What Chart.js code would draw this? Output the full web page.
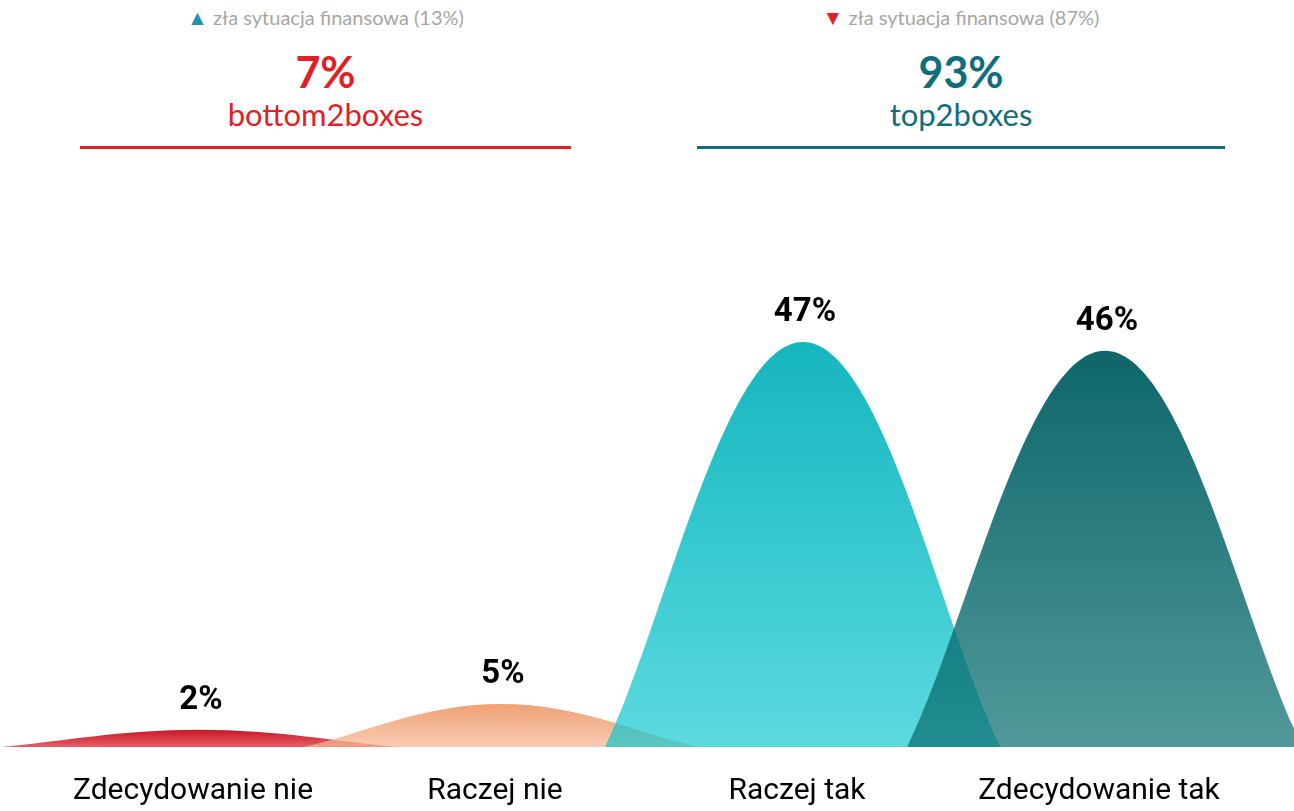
<!DOCTYPE html>
<html>
<head>
<meta charset="utf-8">
<script src="https://cdn.jsdelivr.net/npm/chart.js@4.4.1/dist/chart.umd.min.js"></script>
<style>
    html, body { margin: 0; padding: 0; background: #fff; }
    body { width: 1294px; height: 811px; position: relative; overflow: hidden; font-family: Lato, 'Open Sans', sans-serif; }
    #chart { position: absolute; left: 0; top: 0; }
    .block { position: absolute; top: 0; text-align: center; }
    .note { position: absolute; left: 0; right: 0; top: 5px; font-size: 20px; line-height: 24px; color: #a6a6a6; white-space: nowrap; }
    .note .up { color: #1b93b0; font-size: 21px; }
    .note .down { color: #e21f27; font-size: 21px; }
    .pct { position: absolute; left: 0; right: 0; top: 48px; font-size: 43px; line-height: 48px; font-weight: 700; }
    .sub { position: absolute; left: 0; right: 0; top: 96px; font-size: 31px; line-height: 36px; }
    .rule { position: absolute; left: 0; right: 0; top: 146px; height: 3px; }
    .neg { color: #e21f27; }
    .pos { color: #0f6e7c; }
</style>
</head>
<body>
<div class="block" style="left:80px;width:491px;height:160px;">
    <div class="note"><span class="up">▲</span> zła sytuacja finansowa (13%)</div>
    <div class="pct neg">7%</div>
    <div class="sub neg">bottom2boxes</div>
    <div class="rule" style="background:#e21f27;"></div>
</div>
<div class="block" style="left:697px;width:528px;height:160px;">
    <div class="note"><span class="down">▼</span> zła sytuacja finansowa (87%)</div>
    <div class="pct pos">93%</div>
    <div class="sub pos">top2boxes</div>
    <div class="rule" style="background:#0f6e7c;"></div>
</div>
<canvas id="chart" width="1294" height="811"></canvas>
<script>
const categories = ['Zdecydowanie nie', 'Raczej nie', 'Raczej tak', 'Zdecydowanie tak'];
const shares = [2, 5, 47, 46];

// gradient per curve: colour at the peak, colour at the base
const topColors = ['rgba(200, 22, 36, 1)', 'rgba(240, 160, 116, 1)', 'rgba(22, 181, 190, 1)', 'rgba(14, 102, 105, 1)'];
const baseColors = ['rgba(222, 52, 66, 0.8)', 'rgba(245, 180, 145, 0.7)', 'rgba(5, 197, 206, 0.65)', 'rgba(8, 109, 112, 0.7)'];

const bellPlugin = {
    id: 'bells',
    afterDatasetsDraw(chart) {
        const { ctx } = chart;
        const xs = chart.scales.x;
        const spread = (xs.getPixelForValue(1) - xs.getPixelForValue(0)) * 0.655;
        const bars = chart.getDatasetMeta(0).data;

        bars.forEach((bar, i) => {
            const { x, y, base } = bar.getProps(['x', 'y', 'base'], true);
            const h = base - y;
            const grad = ctx.createLinearGradient(0, y, 0, base);
            grad.addColorStop(0, topColors[i]);
            grad.addColorStop(1, baseColors[i]);
            ctx.save();
            ctx.beginPath();
            ctx.moveTo(x - spread, base);
            ctx.bezierCurveTo(x - 0.7 * spread, base - 0.3 * h, x - 0.4 * spread, y, x, y);
            ctx.bezierCurveTo(x + 0.4 * spread, y, x + 0.7 * spread, base - 0.3 * h, x + spread, base);
            ctx.closePath();
            ctx.fillStyle = grad;
            ctx.fill();
            ctx.restore();
        });

        ctx.save();
        ctx.fillStyle = '#000';
        ctx.font = 'bold 33px Roboto';
        ctx.textAlign = 'center';
        ctx.textBaseline = 'middle';
        bars.forEach((bar, i) => {
            const { x, y } = bar.getProps(['x', 'y'], true);
            ctx.fillText(shares[i] + '%', x + 2, y - 29);
        });
        ctx.restore();
    },
};

new Chart(document.getElementById('chart'), {
    type: 'bar',
    data: {
        labels: categories,
        datasets: [
            {
                data: shares,
                backgroundColor: 'transparent',
                borderWidth: 0,
            },
        ],
    },
    options: {
        responsive: false,
        animation: false,
        devicePixelRatio: 1,
        layout: { padding: { left: 48, right: 38, top: 230, bottom: -24 } },
        plugins: {
            legend: { display: false },
            tooltip: { enabled: false },
        },
        scales: {
            x: {
                grid: { display: false, drawTicks: false },
                border: { display: false },
                ticks: { color: '#000', padding: 26, labelOffset: -6, font: { family: 'Roboto', size: 30 } },
            },
            y: { display: false, min: 0, max: 60 },
        },
    },
    plugins: [bellPlugin],
});
</script>
</body>
</html>
